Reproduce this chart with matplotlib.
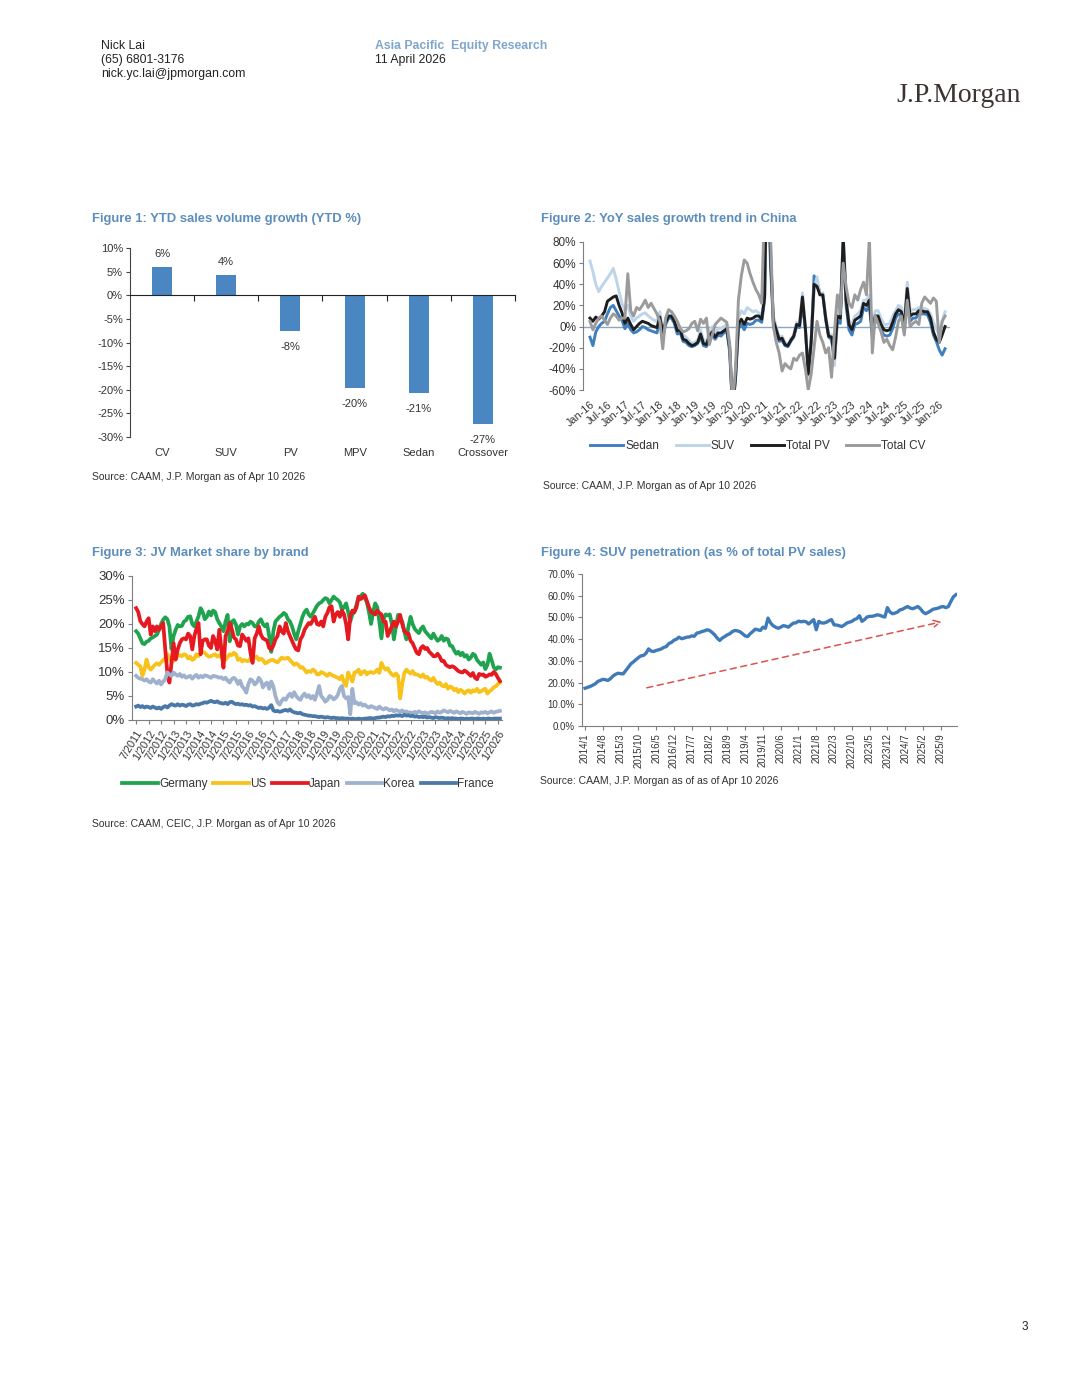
import matplotlib
matplotlib.use("Agg")
import matplotlib.pyplot as plt

NARROW = ['Liberation Sans Narrow', 'Liberation Sans', 'DejaVu Sans']
plt.rcParams['font.family'] = NARROW
plt.rcParams['axes.linewidth'] = 0.8

TITLE_C = '#5b8dbd'
TEXT_C = '#333333'
AXIS_C = '#7f7f7f'

# ---------------- Figure 1: YTD sales volume growth ----------------
ytd_categories = ["CV", "SUV", "PV", "MPV", "Sedan", "Crossover"]
ytd_growth = [6.0, 4.3, -7.5, -19.6, -20.6, -27.2]
ytd_labels = ["6%", "4%", "-8%", "-20%", "-21%", "-27%"]

# ---------------- Figure 2: YoY sales growth (Jan-16 .. Mar-26) ----------------
yoy_ticks = ["Jan-16", "Jul-16", "Jan-17", "Jul-17", "Jan-18", "Jul-18", "Jan-19",
             "Jul-19", "Jan-20", "Jul-20", "Jan-21", "Jul-21", "Jan-22", "Jul-22",
             "Jan-23", "Jul-23", "Jan-24", "Jul-24", "Jan-25", "Jul-25", "Jan-26"]
sedan_yoy = [-10, -18, -5, 0, 3, 5, 12, 18, 20, 15, 10, 6,
             -2, 3, -3, -6, -5, -3, 0, -1, -3, -4, -5, -6,
             5, -10, 2, 8, 8, 3, -7, -6, -14, -15, -18, -19,
             -18, -16, -10, -18, -19, -12, -8, -12, -8, -9, -6, -4,
             -24, -80, -50, -2, 2, -3, 3, 2, 3, 6, 6, 4,
             25, 180, 60, 2, -6, -14, -13, -18, -19, -14, -10, 0,
             -1, 22, -3, -42, -12, 48, 42, 32, 30, 6, -10, -12,
             -33, 5, 3, 78, 20, -3, -8, 2, 3, 5, 18, 15,
             20, -10, 5, 5, -3, -8, -9, -8, -2, 8, 12, 10,
             -5, 30, 5, 8, 8, 12, 12, 12, 11, 4, -8, -14,
             -22, -27, -21]
suv_yoy = [62, 52, 40, 33, 38, 42, 46, 50, 55, 45, 33, 22,
           15, 20, 10, 5, 8, 10, 12, 13, 10, 8, 6, 5,
           14, -5, 8, 15, 14, 8, 0, 0, -8, -10, -13, -16,
           -15, -13, -3, -13, -14, -5, 0, -6, -2, -2, 0, 2,
           -15, -75, -45, 8, 15, 12, 18, 16, 14, 15, 13, 10,
           30, 220, 80, 10, 0, -10, -9, -15, -17, -12, -8, 4,
           3, 32, 1, -48, -18, 35, 47, 30, 32, 10, -7, -8,
           -37, 15, 12, 90, 30, 5, 2, 10, 12, 15, 25, 25,
           30, 0, 15, 15, 8, 2, 2, 3, 10, 15, 20, 18,
           5, 42, 15, 16, 16, 18, 18, 17, 16, 12, 4, -2,
           -8, 5, 14]
pv_yoy = [8, 5, 9, 7, 10, 14, 24, 26, 28, 29, 20, 13,
          3, 8, 2, -3, 0, 3, 5, 4, 3, 1, 0, -1,
          9, -5, 4, 10, 10, 5, -4, -3, -12, -13, -16, -18,
          -17, -15, -7, -16, -17, -9, -5, -10, -6, -6, -4, -2,
          -20, -78, -48, 2, 7, 2, 8, 7, 8, 10, 10, 7,
          28, 200, 70, 6, -3, -12, -11, -17, -18, -13, -9, 2,
          1, 28, -1, -45, -15, 40, 38, 30, 30, 8, -9, -10,
          -30, 10, 8, 85, 25, 2, -3, 6, 8, 10, 22, 20,
          25, -5, 10, 10, 2, -3, -4, -3, 4, 12, 16, 14,
          0, 36, 10, 12, 12, 15, 15, 14, 14, 8, -5, -12,
          -15, -8, 0]
cv_yoy = [5, -3, 3, 8, 10, 6, 2, 8, 12, 10, 6, 8,
          8, 50, 15, 10, 18, 16, 20, 25, 18, 22, 17, 12,
          5, -21, 8, 16, 14, 10, 5, -2, -5, -4, -2, 3,
          5, -4, 7, 3, 8, -17, -8, 2, 5, 8, 6, 4,
          -18, -75, -40, 25, 48, 63, 60, 50, 42, 35, 30, 22,
          120, 250, 90, 0, -15, -25, -42, -35, -38, -40, -30, -32,
          -27, -25, -40, -60, -45, -20, 5, -8, -15, -25, -20, -48,
          -5, 30, 12, 60, 38, 22, 18, 30, 25, 35, 42, 30,
          85, -25, 10, 3, -5, -15, -12, -18, -22, -10, 5, 10,
          -8, 25, 0, 3, 5, 2, 22, 28, 25, 22, 27, 24,
          -15, 5, 10]

# ---------------- Figure 3: JV market share (Jul-2011 .. Feb-2026) ----------------
jv_ticks = ["7/2011", "1/2012", "7/2012", "1/2013", "7/2013", "1/2014", "7/2014",
            "1/2015", "7/2015", "1/2016", "7/2016", "1/2017", "7/2017", "1/2018",
            "7/2018", "1/2019", "7/2019", "1/2020", "7/2020", "1/2021", "7/2021",
            "1/2022", "7/2022", "1/2023", "7/2023", "1/2024", "7/2024", "1/2025",
            "7/2025", "1/2026"]
germany = [18.5, 18.0, 17.0, 16.0, 15.8, 16.3,
           16.5, 17.0, 17.2, 17.5, 17.8, 18.8, 20.0, 20.9, 21.4, 21.0, 19.5, 14.8,
           17.5, 18.8, 19.8, 19.5, 19.6, 20.5, 20.8, 21.5, 21.6, 20.0, 19.5, 20.5,
           21.6, 23.3, 22.5, 21.0, 21.5, 22.6, 21.8, 22.8, 22.5, 21.0, 20.2, 19.5,
           18.5, 20.5, 21.9, 16.4, 20.5, 20.8, 19.9, 17.8, 19.5, 20.0, 19.5, 20.0,
           19.9, 20.5, 20.2, 19.5, 19.5, 20.5, 21.0, 20.0, 19.5, 20.0, 17.5, 14.2,
           18.5, 20.5, 21.0, 21.5, 21.8, 22.3, 22.0, 21.0, 20.5, 19.5, 18.0, 16.8,
           18.5, 20.0, 21.5, 22.5, 23.0, 22.0, 21.5, 22.2, 23.0, 23.8, 24.3, 24.5,
           25.0, 25.4, 25.2, 24.3, 25.0, 25.7, 25.3, 25.0, 24.5, 23.0, 23.5, 24.3,
           22.5, 20.5, 22.0, 22.5, 24.0, 25.5, 25.8, 26.3, 25.5, 24.5, 22.5, 20.0,
           22.5, 24.3, 23.5, 20.5, 17.0, 21.0, 22.0, 21.8, 22.0, 20.0, 16.8, 19.5,
           21.9, 21.2, 20.5, 18.5, 16.8, 19.5, 21.5, 20.0, 19.0, 18.5, 18.1, 19.0,
           19.5, 18.5, 18.0, 17.5, 17.0, 18.0, 17.2, 16.5, 16.8, 17.5, 16.5, 17.0,
           16.8, 15.5, 15.4, 14.5, 13.8, 14.2, 13.5, 14.0, 13.2, 13.5, 12.6, 13.0,
           13.8, 13.5, 12.5, 12.0, 11.5, 12.0, 10.6, 11.5, 13.8, 12.5, 11.0, 10.5,
           11.0, 10.9]
us = [11.9, 11.5, 11.2, 9.2, 10.5, 12.6,
      11.0, 10.5, 11.0, 11.5, 11.8, 11.5, 12.0, 12.5, 12.8, 13.7, 13.0, 12.0,
      12.3, 13.0, 13.3, 13.5, 13.3, 13.7, 13.5, 12.8, 13.2, 12.5, 12.8, 13.7,
      13.3, 13.8, 14.2, 14.0, 13.5, 13.2, 13.3, 13.5, 13.7, 13.2, 13.5, 13.0,
      12.8, 12.5, 13.2, 13.7, 13.5, 14.0, 13.7, 12.5, 12.8, 12.2, 12.5, 12.3,
      12.3, 12.8, 12.5, 13.0, 13.2, 12.5, 12.8, 12.5, 11.8, 12.0, 12.3, 12.5,
      12.5, 12.2, 12.0, 12.5, 13.0, 12.8, 12.8, 13.0, 12.5, 12.0, 11.5, 11.8,
      11.5, 10.9, 11.0, 10.5, 9.9, 10.2, 10.0, 10.5, 10.2, 9.5, 9.5, 10.0,
      9.8, 9.5, 9.2, 9.7, 9.4, 9.2, 9.0, 8.8, 8.5, 9.2, 7.8, 7.1,
      9.9, 9.0, 8.0, 9.9, 10.0, 10.5, 9.5, 10.0, 10.2, 9.5, 9.9, 10.0,
      9.8, 10.0, 10.5, 9.8, 11.9, 11.0, 10.5, 10.8, 10.0, 9.5, 9.2, 9.7,
      9.2, 4.5, 7.5, 9.8, 10.5, 10.0, 9.7, 10.2, 9.5, 9.5, 9.3, 9.0,
      9.5, 8.8, 9.0, 8.5, 8.2, 8.8, 8.0, 7.5, 7.8, 7.2, 7.0, 7.5,
      6.5, 7.0, 6.8, 6.2, 6.5, 5.8, 6.3, 6.0, 5.5, 6.0, 6.2, 5.7,
      6.2, 6.0, 6.5, 5.8, 6.0, 6.3, 6.5, 5.5, 6.0, 6.3, 6.8, 7.0,
      7.5, 7.8]
japan = [23.3, 22.5, 20.6, 20.0, 19.5, 20.5,
         21.2, 17.8, 19.5, 18.5, 19.5, 18.8, 19.5, 20.2, 14.7, 9.9, 7.8, 11.9,
         16.0, 12.6, 14.7, 16.0, 16.8, 17.0, 16.8, 18.0, 17.5, 14.7, 17.5, 19.0,
         20.2, 13.7, 16.5, 16.8, 16.8, 15.5, 15.0, 17.5, 16.5, 14.7, 18.8, 14.7,
         10.9, 17.5, 18.5, 20.2, 19.0, 17.2, 16.8, 15.5, 15.4, 17.8, 17.2, 16.5,
         17.0, 14.0, 11.9, 17.0, 18.0, 19.5, 17.8, 17.0, 16.8, 16.5, 15.0, 14.7,
         15.5, 16.8, 17.5, 19.5, 18.5, 18.0, 20.2, 18.5, 17.5, 16.5, 15.5, 14.7,
         14.5, 16.8, 17.5, 18.8, 19.5, 20.2, 20.0, 20.8, 21.5, 20.0, 19.8, 20.5,
         19.5, 21.5, 22.3, 23.5, 23.7, 20.5, 22.0, 22.5, 21.5, 22.8, 22.0, 20.0,
         16.8, 21.5, 22.8, 22.5, 23.5, 25.7, 25.2, 25.5, 26.0, 24.8, 23.5, 22.5,
         22.3, 22.0, 22.8, 22.3, 22.0, 20.5, 20.5, 17.5, 18.5, 19.5, 20.5, 19.5,
         20.5, 21.9, 20.0, 18.5, 18.1, 18.0, 16.5, 16.0, 15.0, 14.0, 13.7, 15.0,
         15.4, 14.8, 15.0, 14.2, 13.8, 13.3, 13.3, 13.8, 13.2, 12.3, 12.3, 11.5,
         11.2, 11.0, 11.2, 11.0, 10.6, 10.2, 10.0, 9.9, 10.3, 10.0, 9.6, 9.2,
         9.8, 8.8, 8.5, 9.6, 9.4, 9.5, 9.0, 9.2, 9.5, 9.4, 10.0, 9.6,
         8.8, 8.1]
korea = [9.2, 8.8, 8.6, 8.5, 8.2, 8.5,
         8.0, 7.8, 8.5, 8.0, 7.6, 8.2, 7.4, 8.0, 8.5, 9.9, 9.5, 9.2,
         9.9, 9.5, 9.2, 9.6, 9.0, 9.3, 8.8, 9.0, 9.2, 8.6, 9.1, 9.4,
         8.8, 9.2, 8.9, 9.3, 9.2, 9.0, 8.8, 9.2, 9.1, 9.0, 8.8, 8.9,
         8.5, 8.8, 8.2, 7.8, 8.5, 8.8, 8.4, 7.5, 8.2, 7.0, 6.5, 5.7,
         7.5, 8.5, 8.2, 7.4, 7.8, 8.8, 8.2, 6.8, 7.5, 7.8, 6.5, 8.0,
         7.0, 5.0, 3.7, 3.2, 4.0, 4.5, 4.2, 5.0, 5.5, 4.8, 5.8, 5.0,
         4.5, 4.2, 5.0, 5.5, 4.8, 5.2, 4.5, 5.0, 4.2, 5.5, 7.1, 5.0,
         4.5, 3.8, 4.2, 5.0, 4.8, 4.3, 4.6, 5.2, 6.5, 7.1, 5.0, 4.5,
         4.8, 1.2, 6.5, 3.5, 3.7, 3.2, 3.5, 3.0, 3.2, 2.8, 2.6, 2.9,
         2.7, 2.5, 2.3, 2.8, 2.4, 2.2, 2.5, 2.3, 2.0, 2.2, 1.8, 2.1,
         1.9, 1.7, 2.0, 1.6, 1.8, 1.5, 1.6, 1.4, 1.7, 1.5, 1.8, 1.6,
         1.4, 1.6, 1.3, 1.5, 1.7, 1.6, 1.4, 1.8, 1.5, 1.7, 2.0, 1.8,
         1.6, 1.9, 1.7, 1.5, 1.8, 1.6, 1.4, 1.7, 1.5, 1.3, 1.6, 1.5,
         1.4, 1.7, 1.5, 1.3, 1.6, 1.5, 1.7, 1.4, 1.6, 1.8, 1.5, 1.7,
         1.8, 1.9]
france = [2.8, 3.0, 2.7, 2.9, 2.6, 2.8,
          2.7, 2.5, 2.8, 2.6, 2.4, 2.6, 2.3, 2.7, 2.9, 2.6, 3.0, 3.3,
          3.1, 3.0, 3.3, 3.0, 3.2, 3.1, 2.9, 3.2, 3.3, 3.0, 3.1, 3.3,
          3.2, 3.4, 3.5, 3.7, 3.6, 3.8, 4.0, 3.8, 3.7, 3.9, 3.6, 3.5,
          3.4, 3.6, 3.3, 3.7, 3.8, 3.5, 3.3, 3.4, 3.2, 3.3, 3.1, 3.2,
          3.0, 3.1, 2.8, 2.9, 2.7, 2.5, 2.6, 2.4, 2.5, 2.3, 2.6, 3.1,
          2.0, 1.8, 1.9, 1.7, 1.8, 2.0, 2.1, 1.9, 2.2, 1.8, 1.6, 1.5,
          1.4, 1.5, 1.2, 1.1, 1.0, 0.9, 0.9, 0.8, 0.8, 0.7, 0.6, 0.7,
          0.6, 0.5, 0.6, 0.5, 0.4, 0.5, 0.4, 0.4, 0.3, 0.4, 0.3, 0.3,
          0.3, 0.2, 0.3, 0.2, 0.2, 0.3, 0.2, 0.2, 0.3, 0.3, 0.4, 0.4,
          0.3, 0.4, 0.5, 0.5, 0.6, 0.7, 0.6, 0.8, 0.7, 0.9, 0.8, 1.0,
          0.9, 1.0, 0.8, 1.1, 0.9, 1.0, 0.8, 0.9, 0.7, 0.8, 0.6, 0.7,
          0.6, 0.7, 0.5, 0.6, 0.5, 0.4, 0.6, 0.5, 0.4, 0.5, 0.4, 0.3,
          0.4, 0.3, 0.4, 0.3, 0.3, 0.2, 0.3, 0.3, 0.2, 0.3, 0.2, 0.3,
          0.3, 0.2, 0.3, 0.3, 0.2, 0.3, 0.2, 0.3, 0.3, 0.2, 0.3, 0.3,
          0.3, 0.3]

# ---------------- Figure 4: SUV penetration (2014/1 .. 2026/3) ----------------
pen_ticks = ["2014/1", "2014/8", "2015/3", "2015/10", "2016/5", "2016/12", "2017/7",
             "2018/2", "2018/9", "2019/4", "2019/11", "2020/6", "2021/1", "2021/8",
             "2022/3", "2022/10", "2023/5", "2023/12", "2024/7", "2025/2", "2025/9"]
suv_pen = [17.4, 17.8, 18.2, 18.8, 19.4, 20.5, 21.0, 21.5, 21.3, 21.0, 21.8, 23.0,
           23.8, 24.3, 24.1, 24.0, 25.5, 27.0, 28.6, 29.5, 30.5, 31.5, 32.3, 32.5,
           33.5, 35.5, 34.5, 34.3, 34.8, 35.1, 35.5, 36.2, 36.6, 38.0, 38.5, 39.5,
           40.0, 40.9, 40.2, 40.5, 40.9, 41.0, 41.5, 41.3, 42.8, 43.0, 43.5, 43.8,
           44.3, 44.0, 43.1, 42.0, 40.5, 39.4, 40.5, 41.2, 42.0, 42.5, 43.5, 44.0,
           43.8, 43.4, 42.5, 41.5, 41.2, 42.5, 43.5, 44.6, 44.3, 44.0, 45.5, 45.0,
           49.7, 47.5, 46.2, 45.5, 45.0, 45.5, 46.2, 46.0, 45.5, 46.5, 47.4, 47.5,
           48.3, 48.0, 48.2, 48.0, 47.0, 48.0, 49.0, 44.3, 48.2, 47.5, 47.4, 47.8,
           48.5, 49.0, 46.6, 46.5, 46.2, 45.8, 46.5, 47.4, 47.8, 48.2, 49.0, 49.5,
           50.8, 48.2, 49.0, 50.2, 50.5, 50.5, 50.8, 51.2, 51.0, 50.5, 50.2, 54.5,
           52.5, 51.7, 52.0, 52.5, 53.5, 53.8, 54.5, 55.0, 54.3, 54.0, 54.5, 55.0,
           54.0, 52.5, 51.7, 52.3, 53.0, 53.8, 54.0, 54.3, 54.8, 55.0, 54.5, 55.0,
           57.4, 59.5, 60.5]


def px_rect(left, top, right, bottom, W=1080, H=1397):
    return [left / W, 1 - bottom / H, (right - left) / W, (bottom - top) / H]


def ftext(x, y, s, **kw):
    fig.text(x / 1080, 1 - y / 1397, s, va='center', **kw)


fig = plt.figure(figsize=(10.8, 13.97), dpi=100)
fig.patch.set_facecolor('white')

# header
HDR = ['Liberation Sans', 'DejaVu Sans']
ftext(101, 46, "Nick Lai", fontsize=8.8, family=HDR, color='#222222')
ftext(101, 60, "(65) 6801-3176", fontsize=8.8, family=HDR, color='#222222')
ftext(101, 74, "nick.yc.lai@jpmorgan.com", fontsize=8.8, family=HDR, color='#222222')
ftext(375, 46, "Asia Pacific  Equity Research", fontsize=8.8, family=HDR,
      fontweight='bold', color='#7fa6cc')
ftext(375, 60, "11 April 2026", fontsize=8.8, family=HDR, color='#222222')
ftext(896, 95, "J.P.Morgan", fontsize=20, family=['Liberation Serif', 'DejaVu Serif'],
      color='#3b3431')
ftext(1022, 1327, "3", fontsize=8.5, family=HDR, color='#222222')

# titles and sources
ftext(92, 219, "Figure 1: YTD sales volume growth (YTD %)", fontsize=9.4,
      fontweight='bold', color=TITLE_C)
ftext(541, 219, "Figure 2: YoY sales growth trend in China", fontsize=9.4,
      fontweight='bold', color=TITLE_C)
ftext(92, 553, "Figure 3: JV Market share by brand", fontsize=9.4,
      fontweight='bold', color=TITLE_C)
ftext(541, 553, "Figure 4: SUV penetration (as % of total PV sales)", fontsize=9.4,
      fontweight='bold', color=TITLE_C)
ftext(92, 477, "Source: CAAM, J.P. Morgan as of Apr 10 2026", fontsize=7.5, color=TEXT_C)
ftext(543, 486, "Source: CAAM, J.P. Morgan as of Apr 10 2026", fontsize=7.5, color=TEXT_C)
ftext(92, 824, "Source: CAAM, CEIC, J.P. Morgan as of Apr 10 2026", fontsize=7.5, color=TEXT_C)
ftext(540, 781, "Source: CAAM, J.P. Morgan as of as of Apr 10 2026", fontsize=7.5, color=TEXT_C)

# ---------------- Figure 1 ----------------
ax1 = fig.add_axes(px_rect(130, 248, 515, 437))
x1 = list(range(len(ytd_categories)))
ax1.bar(x1, ytd_growth, width=0.31, color='#4a86c2')
ax1.set_xlim(-0.5, len(x1) - 0.5)
ax1.set_ylim(-30, 10)
ax1.spines['top'].set_visible(False)
ax1.spines['right'].set_visible(False)
ax1.spines['bottom'].set_position(('data', 0))
ax1.spines['bottom'].set_color('#222222')
ax1.spines['left'].set_color('#444444')
ax1.set_xticks([i + 0.5 for i in x1])
ax1.set_xticklabels([])
ax1.tick_params(axis='x', direction='out', length=4, color='#222222')
ax1.set_yticks(range(-30, 11, 5))
ax1.set_yticklabels([f"{v}%" for v in range(-30, 11, 5)], fontsize=8, color=TEXT_C)
ax1.tick_params(axis='y', direction='out', length=3, color='#444444', pad=2)
for i, (v, lab) in enumerate(zip(ytd_growth, ytd_labels)):
    off = 9 if v >= 0 else -11.5
    ax1.annotate(lab, (i, v), xytext=(0, off), textcoords='offset points',
                 ha='center', va='center', fontsize=8, color=TEXT_C)
    ax1.annotate(ytd_categories[i], (i, -30), xytext=(0, -11.5), textcoords='offset points',
                 ha='center', va='center', fontsize=8, color=TEXT_C,
                 annotation_clip=False)

# ---------------- Figure 2 ----------------
ax2 = fig.add_axes(px_rect(583, 242, 950, 390))
m2 = list(range(len(pv_yoy)))
ax2.axhline(0, color='#8aa6c1', lw=1.0, zorder=1)
ax2.plot(m2, sedan_yoy, color='#3f7fbf', lw=2.1, label='Sedan', zorder=2)
ax2.plot(m2, suv_yoy, color='#bcd5ea', lw=2.1, label='SUV', zorder=3)
ax2.plot(m2, pv_yoy, color='#1e1e1e', lw=2.1, label='Total PV', zorder=4)
ax2.plot(m2, cv_yoy, color='#9b9b9b', lw=2.1, label='Total CV', zorder=5)
ax2.set_xlim(-2.4, 123.7)
ax2.set_ylim(-60, 80)
for s in ['top', 'right', 'bottom']:
    ax2.spines[s].set_visible(False)
ax2.spines['left'].set_color(AXIS_C)
ax2.set_yticks(range(-60, 81, 20))
ax2.set_yticklabels([f"{v}%" for v in range(-60, 81, 20)], fontsize=8.5, color=TEXT_C)
ax2.tick_params(axis='y', direction='out', length=3, color=AXIS_C, pad=2)
ax2.set_xticks(range(0, 121, 6))
ax2.set_xticklabels(yoy_ticks, rotation=40, ha='right', rotation_mode='anchor',
                    fontsize=7.8, color=TEXT_C)
ax2.tick_params(axis='x', length=0, pad=7)
ax2.legend(loc='center', bbox_to_anchor=(0.477, -0.378), ncol=4, frameon=False,
           fontsize=8.5, handlelength=2.8, handletextpad=0.15, columnspacing=1.4,
           labelcolor=TEXT_C)

# ---------------- Figure 3 ----------------
ax3 = fig.add_axes(px_rect(132, 576, 502, 720))
m3 = list(range(len(germany)))
ax3.plot(m3, germany, color='#1fa34f', lw=2.7, label='Germany')
ax3.plot(m3, us, color='#f7c21a', lw=2.7, label='US')
ax3.plot(m3, japan, color='#e5191f', lw=2.7, label='Japan')
ax3.plot(m3, korea, color='#9fb1cc', lw=2.7, label='Korea')
ax3.plot(m3, france, color='#4a79a8', lw=2.7, label='France')
ax3.set_xlim(-2, 176)
ax3.set_ylim(0, 30)
ax3.spines['top'].set_visible(False)
ax3.spines['right'].set_visible(False)
ax3.spines['left'].set_color(AXIS_C)
ax3.spines['bottom'].set_color(AXIS_C)
ax3.set_yticks(range(0, 31, 5))
ax3.set_yticklabels([f"{v}%" for v in range(0, 31, 5)], fontsize=9.5, color=TEXT_C)
ax3.tick_params(axis='y', direction='out', length=3, color=AXIS_C, pad=2)
ax3.set_xticks(range(0, 175, 6))
ax3.set_xticklabels(jv_ticks, rotation=58, ha='right', rotation_mode='anchor',
                    fontsize=7.8, color=TEXT_C)
ax3.tick_params(axis='x', direction='out', length=3, color=AXIS_C, pad=3)
ax3.legend(loc='center', bbox_to_anchor=(0.476, -0.444), ncol=5, frameon=False,
           fontsize=8.5, handlelength=3.0, handletextpad=0.1, columnspacing=0.5,
           labelcolor=TEXT_C)

# ---------------- Figure 4 ----------------
ax4 = fig.add_axes(px_rect(582, 574, 957, 726))
m4 = list(range(len(suv_pen)))
ax4.plot(m4, suv_pen, color='#3f7bb8', lw=2.4)
ax4.annotate('', xy=(140.4, 48.0), xytext=(24.3, 17.6),
             arrowprops=dict(arrowstyle='->', color='#d9534f', lw=1.1,
                             linestyle=(0, (4, 3)), mutation_scale=12,
                             shrinkA=0, shrinkB=0))
ax4.set_xlim(-1.2, 146.4)
ax4.set_ylim(0, 70)
ax4.spines['top'].set_visible(False)
ax4.spines['right'].set_visible(False)
ax4.spines['left'].set_color(AXIS_C)
ax4.spines['bottom'].set_color(AXIS_C)
ax4.set_yticks(range(0, 71, 10))
ax4.set_yticklabels([f"{v:.1f}%" for v in range(0, 71, 10)], fontsize=7, color=TEXT_C)
ax4.tick_params(axis='y', direction='out', length=3, color=AXIS_C, pad=2)
ax4.set_xticks(range(0, 141, 7))
ax4.set_xticklabels(pen_ticks, rotation=90, fontsize=7, color=TEXT_C)
ax4.tick_params(axis='x', direction='out', length=3, color=AXIS_C, pad=2)

fig.savefig("out.png", dpi=100, facecolor='white')
